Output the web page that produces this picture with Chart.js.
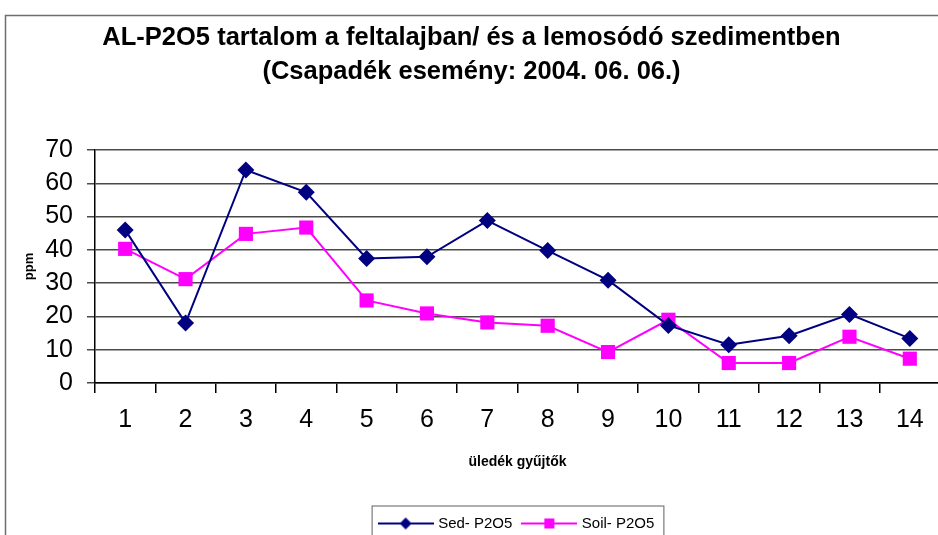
<!DOCTYPE html>
<html>
<head>
<meta charset="utf-8">
<script src="https://cdn.jsdelivr.net/npm/chart.js@4"></script>
<style>
  html, body { margin: 0; padding: 0; overflow: hidden; background: #fff; }
  canvas { display: block; }
</style>
</head>
<body>
<canvas id="chart" width="950" height="541"></canvas>
<script>
// values
var categories = ['1', '2', '3', '4', '5', '6', '7', '8', '9', '10', '11', '12', '13', '14'];
var sedValues = [46, 18, 64, 57.3, 37.4, 37.9, 48.8, 39.8, 30.9, 17.3, 11.5, 14.2, 20.6, 13.4];
var soilValues = [40.3, 31.2, 44.8, 46.7, 24.8, 20.9, 18.2, 17.2, 9.3, 19, 6, 6, 13.9, 7.3];
var seriesNames = ['Sed- P2O5', 'Soil- P2O5'];
var titleLines = ['AL-P2O5 tartalom a feltalajban/ és a lemosódó szedimentben', '(Csapadék esemény: 2004. 06. 06.)'];

var SED_COLOR = '#000080';
var SOIL_COLOR = '#FF00FF';
var FONT = "'Liberation Sans', Arial, sans-serif";

// little line+marker picture for the legend
function legendMark(color, shape) {
    var c = document.createElement('canvas');
    c.width = 56;
    c.height = 14;
    var g = c.getContext('2d');
    g.strokeStyle = color;
    g.lineWidth = 2;
    g.beginPath();
    g.moveTo(0, 7);
    g.lineTo(56, 7);
    g.stroke();
    g.fillStyle = color;
    if (shape === 'diamond') {
        g.beginPath();
        g.moveTo(28, 1);
        g.lineTo(34, 7);
        g.lineTo(28, 13);
        g.lineTo(22, 7);
        g.closePath();
        g.fill();
    } else {
        g.fillRect(23, 2, 10, 10);
    }
    return c;
}

var legendMarks = [legendMark(SED_COLOR, 'diamond'), legendMark(SOIL_COLOR, 'square')];

var framePlugin = {
    id: 'frame',
    beforeDraw: function(chart) {
        var ctx = chart.ctx;
        ctx.save();
        ctx.fillStyle = '#fff';
        ctx.fillRect(0, 0, chart.width, chart.height);
        ctx.strokeStyle = '#6e6e6e';
        ctx.lineWidth = 1.5;
        ctx.strokeRect(5.5, 15.5, 1200, 800);
        ctx.restore();
    },
    afterDraw: function(chart) {
        var boxes = chart.legend.legendHitBoxes;
        if (!boxes || !boxes.length) return;
        var first = boxes[0];
        var last = boxes[boxes.length - 1];
        var ctx = chart.ctx;
        ctx.save();
        ctx.strokeStyle = '#7a7a7a';
        ctx.lineWidth = 1.2;
        var cy = first.top + first.height / 2;
        ctx.strokeRect(first.left - 8.5, cy - 17.5, (last.left + last.width) - first.left + 18, 60);
        ctx.restore();
    }
};

var ctx = document.getElementById('chart').getContext('2d');
var myChart = new Chart(ctx, {
    type: 'line',
    data: {
        labels: categories,
        datasets: [{
            label: seriesNames[0],
            data: sedValues,
            borderColor: SED_COLOR,
            backgroundColor: SED_COLOR,
            borderWidth: 2,
            pointStyle: 'rectRot',
            pointRadius: 8.5,
            pointHoverRadius: 8.5,
            pointBorderWidth: 0,
            tension: 0
        }, {
            label: seriesNames[1],
            data: soilValues,
            borderColor: SOIL_COLOR,
            backgroundColor: SOIL_COLOR,
            borderWidth: 2,
            pointStyle: 'rect',
            pointRadius: 10,
            pointHoverRadius: 10,
            pointBorderWidth: 0,
            tension: 0
        }]
    },
    options: {
        responsive: false,
        animation: false,
        layout: {
            padding: { left: 0, right: 7, top: 0, bottom: 0 }
        },
        plugins: {
            title: {
                display: true,
                text: titleLines,
                color: '#000',
                font: { family: FONT, size: 25.5, weight: 'bold', lineHeight: 34 / 25.5 },
                padding: { top: 21, bottom: 61 }
            },
            legend: {
                position: 'bottom',
                fullSize: false,
                labels: {
                    usePointStyle: true,
                    pointStyleWidth: 50,
                    padding: 12,
                    color: '#000',
                    font: { family: FONT, size: 15 },
                    generateLabels: function(chart) {
                        return chart.data.datasets.map(function(ds, i) {
                            return {
                                text: ds.label,
                                pointStyle: legendMarks[i],
                                fillStyle: ds.borderColor,
                                strokeStyle: ds.borderColor,
                                lineWidth: 0,
                                hidden: false,
                                datasetIndex: i
                            };
                        });
                    }
                }
            },
            tooltip: { enabled: false }
        },
        scales: {
            x: {
                offset: true,
                afterFit: function(scale) { scale.height = 121; },
                grid: {
                    offset: true,
                    drawOnChartArea: false,
                    drawTicks: true,
                    tickLength: 10,
                    color: '#000',
                    lineWidth: 1.5
                },
                border: { color: '#000', width: 1.5 },
                ticks: {
                    color: '#000',
                    padding: 12,
                    maxRotation: 0,
                    font: { family: FONT, size: 25 }
                },
                title: {
                    display: true,
                    text: 'üledék gyűjtők',
                    color: '#000',
                    font: { family: FONT, size: 14, weight: 'bold' },
                    padding: { top: 0, bottom: 33 }
                }
            },
            y: {
                min: 0,
                max: 70,
                afterFit: function(scale) { scale.width = 95; },
                grid: {
                    color: '#4a4a4a',
                    lineWidth: 1.5,
                    tickLength: 8
                },
                border: { color: '#000', width: 1.5 },
                ticks: {
                    stepSize: 10,
                    color: '#000',
                    padding: 14,
                    font: { family: FONT, size: 25 }
                },
                title: {
                    display: true,
                    text: 'ppm',
                    color: '#000',
                    font: { family: FONT, size: 13, weight: 'bold' },
                    padding: { top: 22, bottom: 0 }
                }
            }
        }
    },
    plugins: [framePlugin]
});
</script>
</body>
</html>
